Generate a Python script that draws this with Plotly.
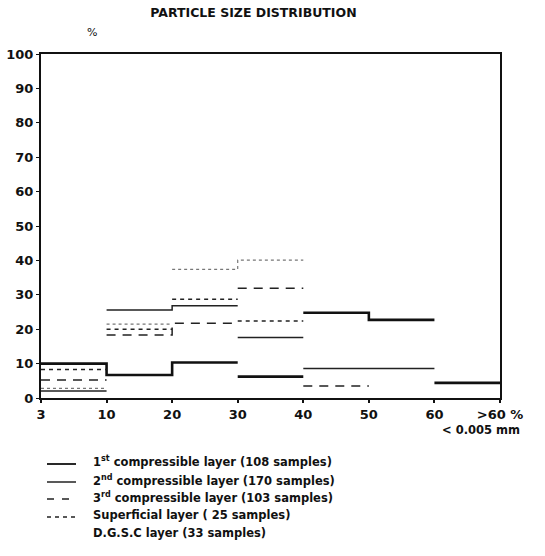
import plotly.graph_objects as go

# Bin edge labels (x axis): 3,10,20,...,60,>60 ; bins are between consecutive edges
edge_labels = ["3", "10", "20", "30", "40", "50", "60", ">60 %"]

# Percent of samples in each bin (None = no line drawn in that bin)
first_layer   = [10.0, 6.7, 10.3, 6.2, 24.8, 22.7, 4.4]
second_layer  = [2.0, 25.6, 26.8, 17.6, 8.6, 8.6, None]
third_layer   = [5.2, 18.3, 21.7, 31.9, 3.5, None, None]
superficial   = [8.3, 20.0, 28.7, 22.4, None, None, None]
dgsc_layer    = [2.8, 21.5, 37.4, 40.1, None, None, None]

names = [
    "1<sup>st</sup> compressible layer (108 samples)",
    "2<sup>nd</sup> compressible layer (170 samples)",
    "3<sup>rd</sup> compressible layer (103 samples)",
    "Superficial layer ( 25 samples)",
    "D.G.S.C layer (33 samples)",
]

styles = [
    dict(color="#111", width=2.6, dash="solid"),
    dict(color="#222", width=1.5, dash="solid"),
    dict(color="#222", width=1.5, dash="9px,7px"),
    dict(color="#222", width=1.6, dash="4px,4px"),
    dict(color="#777", width=1.2, dash="dot"),
]
legend_symbol = [True, True, True, True, False]

def bin_path(vals, join_below=4.0):
    # horizontal segment per bin; neighbouring bins joined by a riser only
    # when the step between them is small (as drawn in the original figure)
    xs, ys = [], []
    prev = None
    for i, v in enumerate(vals):
        if v is None:
            prev = None
            continue
        if prev is not None and abs(v - prev) < join_below:
            xs += [i, i + 1]
            ys += [v, v]
        else:
            if xs:
                xs.append(None)
                ys.append(None)
            xs += [i, i + 1]
            ys += [v, v]
        prev = v
    return xs, ys

fig = go.Figure()
series = [first_layer, second_layer, third_layer, superficial, dgsc_layer]
for vals, nm, st in zip(series, names, styles):
    xs, ys = bin_path(vals)
    fig.add_trace(go.Scatter(
        x=xs, y=ys, mode="lines", line=st, name=nm,
        showlegend=False, hoverinfo="skip", connectgaps=False,
    ))

font_fam = "DejaVu Sans"

# plot-area geometry (px) used to place the hand-made legend
L, R, T, B = 41, 45, 54, 158
W, H = 545, 556
pw, ph = W - L - R, H - T - B
def px_x(p):
    return (p - L) / pw
def px_y(p):
    return (H - B - p) / ph

shapes, annotations = [], []
row_y = [462, 480, 497, 515, 533]
for nm, st, ry, show in zip(names, styles, row_y, legend_symbol):
    if show:
        shapes.append(dict(type="line", xref="paper", yref="paper",
                           x0=px_x(47), x1=px_x(76), y0=px_y(ry + 2), y1=px_y(ry + 2),
                           line=dict(color=st["color"], width=min(st["width"], 1.8),
                                     dash=st["dash"] if st["dash"] != "9px,7px" else "7px,8px")))
    annotations.append(dict(text=nm, xref="paper", yref="paper", x=px_x(91), y=px_y(ry),
                            xanchor="left", yanchor="middle", showarrow=False,
                            font=dict(size=11.5, family=font_fam, weight="bold", color="#111")))

annotations += [
    dict(text="%", xref="paper", yref="paper", x=px_x(92), y=px_y(33),
         showarrow=False, xanchor="center", yanchor="middle",
         font=dict(size=11, family=font_fam, color="#111")),
    dict(text="< 0.005 mm", xref="paper", yref="paper", x=px_x(481),
         y=px_y(430), showarrow=False, xanchor="center", yanchor="middle",
         font=dict(size=11.5, family=font_fam, weight="bold", color="#111")),
]

fig.update_layout(
    width=W, height=H,
    margin=dict(l=L, r=R, t=T, b=B),
    paper_bgcolor="white", plot_bgcolor="white",
    font=dict(family=font_fam, color="#111"),
    showlegend=False,
    title=dict(text="PARTICLE SIZE DISTRIBUTION", x=0.465, xanchor="center",
               y=0.977, yanchor="middle",
               font=dict(size=12.5, family=font_fam, weight="bold", color="#111")),
    xaxis=dict(
        range=[0, 7], tickmode="array", tickvals=list(range(8)), ticktext=edge_labels,
        showgrid=False, zeroline=False, showline=True, linecolor="#111", linewidth=2,
        mirror=True, ticks="outside", ticklen=3, tickwidth=1.5, tickcolor="#111",
        automargin=False,
        tickfont=dict(size=13, family=font_fam, weight="bold", color="#111"),
    ),
    yaxis=dict(
        range=[0, 100], tickmode="array", tickvals=list(range(0, 101, 10)),
        showgrid=False, zeroline=False, showline=True, linecolor="#111", linewidth=2,
        mirror=True, ticks="outside", ticklen=3, tickwidth=1.2, tickcolor="#111",
        automargin=False,
        tickfont=dict(size=13, family=font_fam, weight="bold", color="#111"),
    ),
    shapes=shapes,
    annotations=annotations,
)

fig.write_html("out.html")
